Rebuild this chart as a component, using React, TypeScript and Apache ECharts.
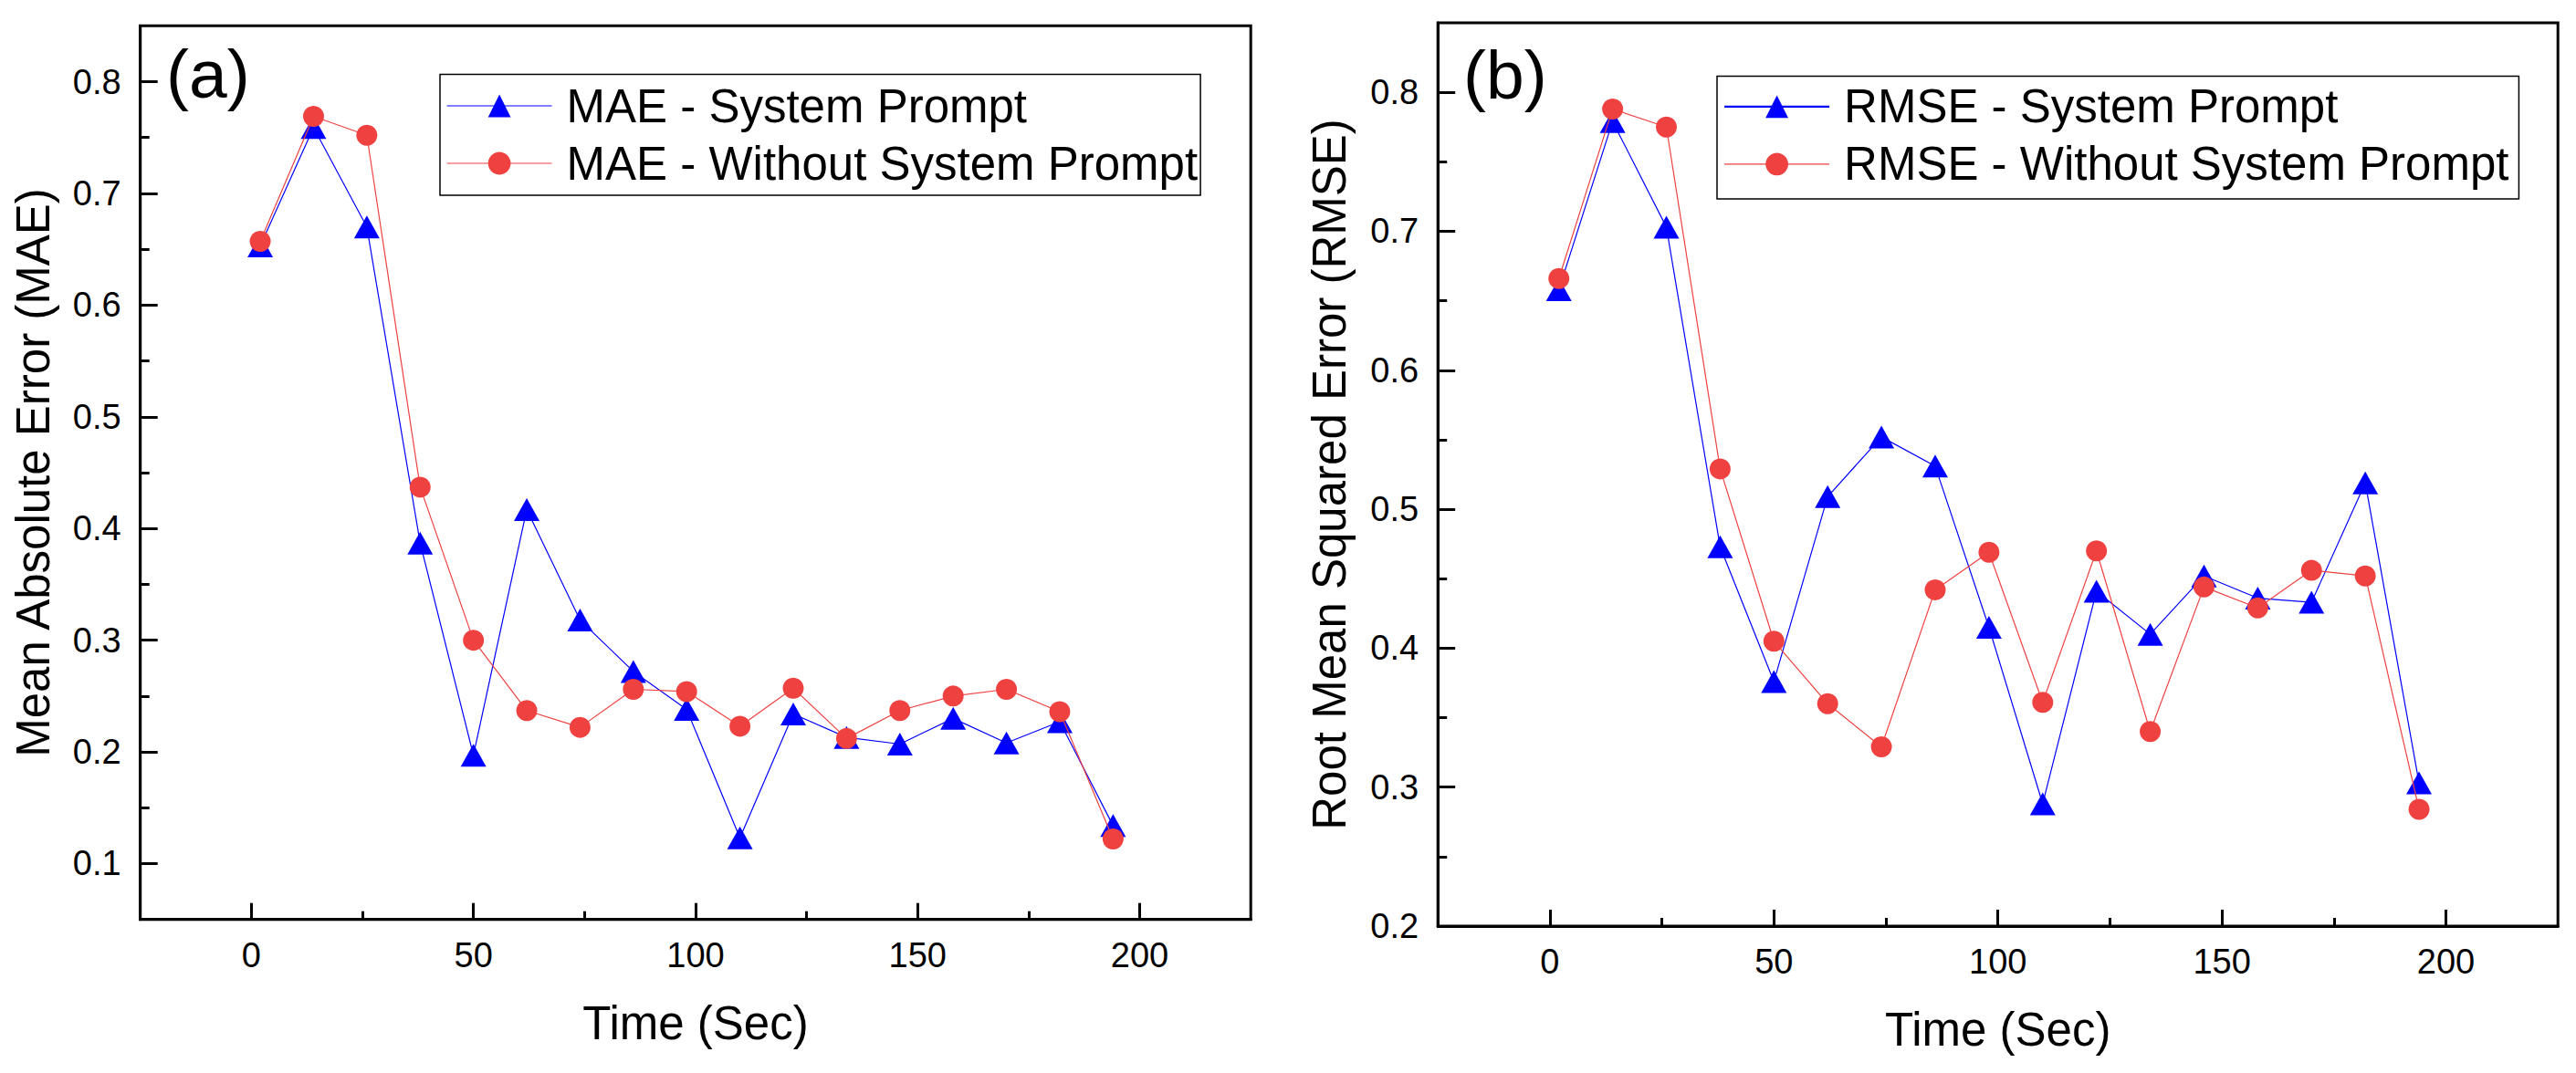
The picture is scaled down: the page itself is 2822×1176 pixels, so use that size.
import React, { useEffect, useRef } from "react";
import * as echarts from "echarts";

// ---------- data ----------
const timeSec = [2, 14, 26, 38, 50, 62, 74, 86, 98, 110, 122, 134, 146, 158, 170, 182, 194];

const maeSystemPrompt = [0.653, 0.759, 0.670, 0.387, 0.197, 0.417, 0.318, 0.272, 0.238, 0.123, 0.234, 0.213, 0.207, 0.230, 0.208, 0.227, 0.134];
const maeWithoutSystemPrompt = [0.657, 0.769, 0.752, 0.437, 0.300, 0.237, 0.222, 0.256, 0.254, 0.223, 0.257, 0.212, 0.237, 0.250, 0.256, 0.236, 0.122];

const rmseSystemPrompt = [0.658, 0.779, 0.703, 0.473, 0.376, 0.509, 0.552, 0.531, 0.415, 0.288, 0.441, 0.410, 0.452, 0.436, 0.433, 0.519, 0.303];
const rmseWithoutSystemPrompt = [0.666, 0.788, 0.775, 0.529, 0.405, 0.360, 0.329, 0.442, 0.469, 0.361, 0.470, 0.340, 0.444, 0.429, 0.456, 0.452, 0.284];

const xMajorTicks = [0, 50, 100, 150, 200];
const xMinorTicks = [25, 75, 125, 175];
const maeMajorTicks = [0.1, 0.2, 0.3, 0.4, 0.5, 0.6, 0.7, 0.8];
const maeMinorTicks = [0.15, 0.25, 0.35, 0.45, 0.55, 0.65, 0.75];
const rmseMajorTicks = [0.2, 0.3, 0.4, 0.5, 0.6, 0.7, 0.8];
const rmseMinorTicks = [0.25, 0.35, 0.45, 0.55, 0.65, 0.75];

const seriesNames = [
  "MAE - System Prompt",
  "MAE - Without System Prompt",
  "RMSE - System Prompt",
  "RMSE - Without System Prompt",
];
const panelLabels = ["(a)", "(b)"];
const xTitle = "Time (Sec)";
const yTitles = ["Mean Absolute Error (MAE)", "Root Mean Squared Error (RMSE)"];

// ---------- styles ----------
const FONT = '"Liberation Sans", Arial, sans-serif';
const BLUE = "#0000FF";
const RED = "#F04141";
const BLACK = "#000000";

function pairs(xs: number[], ys: number[]) {
  return xs.map((x, i) => [x, ys[i]]);
}

function majorX(gridIndex: number) {
  return {
    type: "value",
    gridIndex,
    min: -25,
    max: 225,
    position: "bottom",
    name: xTitle,
    nameLocation: "middle",
    nameGap: 88,
    nameTextStyle: { fontSize: 51, fontFamily: FONT, color: BLACK },
    axisLine: { show: true, onZero: false, lineStyle: { color: BLACK, width: 3 } },
    axisTick: { show: true, inside: true, length: 18, customValues: xMajorTicks, lineStyle: { color: BLACK, width: 3 } },
    axisLabel: {
      show: true,
      customValues: xMajorTicks,
      margin: 20,
      fontSize: 38,
      fontFamily: FONT,
      color: BLACK,
      formatter: (v: number) => String(Math.round(v)),
    },
    splitLine: { show: false },
  };
}

function minorX(gridIndex: number) {
  return {
    type: "value",
    gridIndex,
    min: -25,
    max: 225,
    position: "bottom",
    axisLine: { show: false, onZero: false },
    axisTick: { show: true, inside: true, length: 9, customValues: xMinorTicks, lineStyle: { color: BLACK, width: 3 } },
    axisLabel: { show: false },
    splitLine: { show: false },
  };
}

function majorY(gridIndex: number, min: number, max: number, ticks: number[], name: string, nameGap: number) {
  return {
    type: "value",
    gridIndex,
    min,
    max,
    position: "left",
    name,
    nameLocation: "middle",
    nameRotate: 90,
    nameGap,
    nameTextStyle: { fontSize: 51, fontFamily: FONT, color: BLACK },
    axisLine: { show: true, onZero: false, lineStyle: { color: BLACK, width: 3 } },
    axisTick: { show: true, inside: true, length: 19, customValues: ticks, lineStyle: { color: BLACK, width: 3 } },
    axisLabel: {
      show: true,
      customValues: ticks,
      margin: 21,
      fontSize: 38,
      fontFamily: FONT,
      color: BLACK,
      formatter: (v: number) => v.toFixed(1),
    },
    splitLine: { show: false },
  };
}

function minorY(gridIndex: number, min: number, max: number, ticks: number[]) {
  return {
    type: "value",
    gridIndex,
    min,
    max,
    position: "left",
    axisLine: { show: false, onZero: false },
    axisTick: { show: true, inside: true, length: 10, customValues: ticks, lineStyle: { color: BLACK, width: 3 } },
    axisLabel: { show: false },
    splitLine: { show: false },
  };
}

function lineSeries(name: string, xIdx: number, yIdx: number, ys: number[], isTriangle: boolean) {
  const color = isTriangle ? BLUE : RED;
  return {
    type: "line",
    name,
    xAxisIndex: xIdx,
    yAxisIndex: yIdx,
    data: pairs(timeSec, ys),
    symbol: isTriangle ? "triangle" : "circle",
    symbolSize: isTriangle ? [28, 25] : 23,
    showAllSymbol: true,
    itemStyle: { color, opacity: 1 },
    lineStyle: { color, width: 1.2 },
    emphasis: { disabled: true },
    z: isTriangle ? 2 : 3,
  };
}

function legendBox(names: string[], left: number, top: number, padding: number[], blueWidth: number) {
  return {
    show: true,
    orient: "vertical",
    left,
    top,
    padding,
    itemWidth: 115,
    itemHeight: 31,
    itemGap: 12,
    borderColor: BLACK,
    borderWidth: 1.5,
    selectedMode: false,
    textStyle: { fontSize: 51, fontFamily: FONT, color: BLACK, padding: [0, 0, 0, 11] },
    data: [
      { name: names[0], lineStyle: { width: blueWidth } },
      { name: names[1], lineStyle: { width: 1.2 } },
    ],
  };
}

export default function App() {
  const ref = useRef<HTMLDivElement>(null);

  useEffect(() => {
    if (!ref.current) return;
    const chart = echarts.init(ref.current, null, { renderer: "svg" });
    const option: any = {
      animation: false,
      backgroundColor: "#ffffff",
      grid: [
        { left: 153.7, top: 28.3, width: 1216.5, height: 979.4, show: true, borderColor: BLACK, borderWidth: 3, backgroundColor: "transparent", containLabel: false },
        { left: 1575.2, top: 25, width: 1227, height: 990, show: true, borderColor: BLACK, borderWidth: 3, backgroundColor: "transparent", containLabel: false },
      ],
      xAxis: [majorX(0), minorX(0), majorX(1), minorX(1)],
      yAxis: [
        majorY(0, 0.05, 0.85, maeMajorTicks, yTitles[0], 92),
        minorY(0, 0.05, 0.85, maeMinorTicks),
        majorY(1, 0.2, 0.85, rmseMajorTicks, yTitles[1], 93),
        minorY(1, 0.2, 0.85, rmseMinorTicks),
      ],
      legend: [
        legendBox([seriesNames[0], seriesNames[1]], 482, 81.5, [9, 3, 9.5, 7], 1.2),
        legendBox([seriesNames[2], seriesNames[3]], 1881, 83.4, [8, 11, 12.5, 7], 2.2),
      ],
      series: [
        lineSeries(seriesNames[0], 0, 0, maeSystemPrompt, true),
        lineSeries(seriesNames[1], 0, 0, maeWithoutSystemPrompt, false),
        lineSeries(seriesNames[2], 2, 2, rmseSystemPrompt, true),
        lineSeries(seriesNames[3], 2, 2, rmseWithoutSystemPrompt, false),
      ],
      graphic: [
        {
          type: "text",
          x: 182,
          y: 81,
          style: { text: panelLabels[0], fontSize: 75, fontFamily: FONT, fill: BLACK, align: "left", verticalAlign: "middle" },
        },
        {
          type: "text",
          x: 1603,
          y: 81.5,
          style: { text: panelLabels[1], fontSize: 75, fontFamily: FONT, fill: BLACK, align: "left", verticalAlign: "middle" },
        },
      ],
    };
    chart.setOption(option);
    return () => {
      chart.dispose();
    };
  }, []);

  return (
    <div
      ref={ref}
      style={{ position: "absolute", left: 0, top: 0, width: 2822, height: 1176, background: "#fff" }}
    />
  );
}
